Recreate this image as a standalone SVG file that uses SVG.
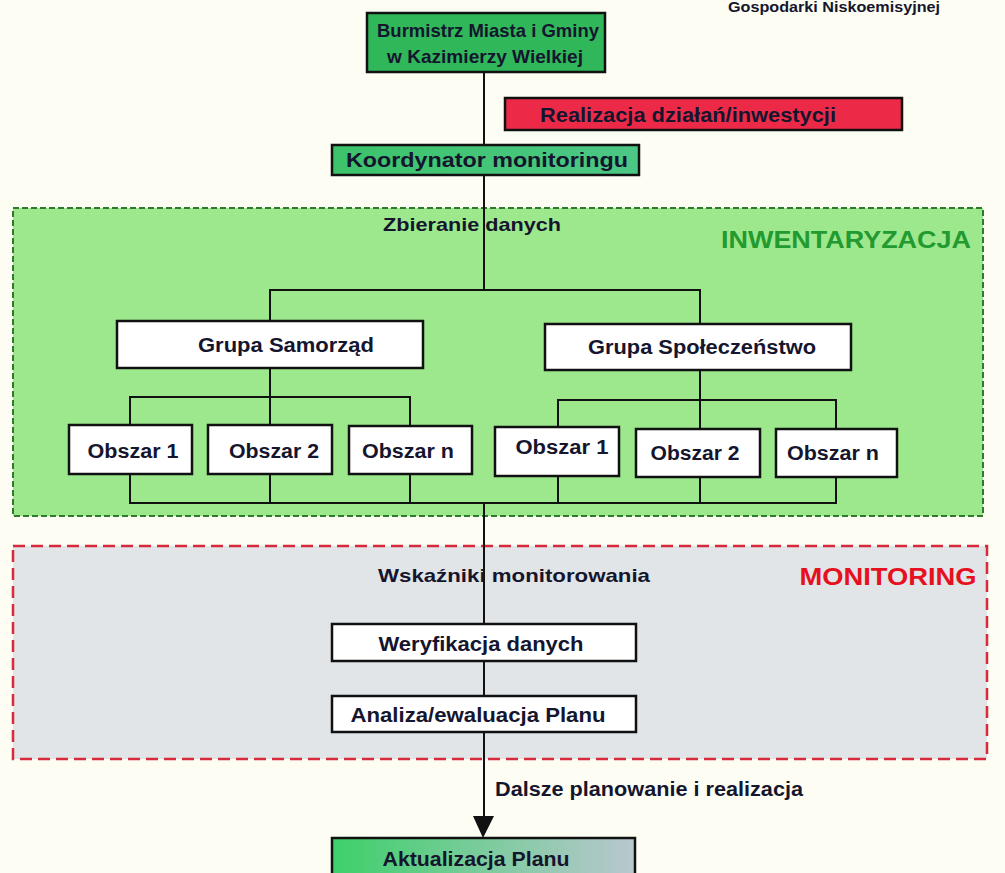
<svg xmlns="http://www.w3.org/2000/svg" width="1005" height="873" viewBox="0 0 1005 873">
<defs>
<linearGradient id="gAkt" x1="0" y1="0" x2="1" y2="0">
<stop offset="0" stop-color="#3ed06a"/><stop offset="1" stop-color="#b9c7cf"/>
</linearGradient>
<linearGradient id="gKoord" x1="0" y1="0" x2="1" y2="0">
<stop offset="0" stop-color="#3cc36a"/><stop offset="1" stop-color="#4cc786"/>
</linearGradient>
<style>
.box{stroke:#111;stroke-width:2.5}
.wbox{fill:#ffffff;stroke:#111;stroke-width:2.5}
.ln{stroke:#111;stroke-width:2;fill:none}
.t{font-family:"Liberation Sans",Arial,sans-serif;font-weight:bold;fill:#15152e;text-anchor:middle}
</style>
</defs>
<rect x="0" y="0" width="1005" height="873" fill="#fdfdf4"/>
<text class="t" x="834" y="12" font-size="15" textLength="212" lengthAdjust="spacingAndGlyphs">Gospodarki Niskoemisyjnej</text>

<g id="region-inwentaryzacja">
<rect x="13" y="208" width="970" height="308" fill="#9de88c" stroke="#2f7a2f" stroke-width="2" stroke-dasharray="6,3"/>
<text x="846" y="248" font-family="'Liberation Sans',Arial,sans-serif" font-weight="bold" font-size="23" fill="#229a30" text-anchor="middle" textLength="250" lengthAdjust="spacingAndGlyphs">INWENTARYZACJA</text>
</g>
<g id="region-monitoring">
<rect x="13" y="546" width="974" height="213" fill="#e1e5e7" stroke="#d8283c" stroke-width="2.5" stroke-dasharray="12,6"/>
<text x="888" y="585" font-family="'Liberation Sans',Arial,sans-serif" font-weight="bold" font-size="23" fill="#e6101e" text-anchor="middle" textLength="177" lengthAdjust="spacingAndGlyphs">MONITORING</text>
</g>

<g id="connectors">
<line class="ln" x1="484" y1="72" x2="484" y2="146"/>
<line class="ln" x1="484" y1="175" x2="484" y2="290"/>
<line class="ln" x1="269" y1="290" x2="701" y2="290"/>
<line class="ln" x1="270" y1="290" x2="270" y2="321"/>
<line class="ln" x1="700" y1="290" x2="700" y2="324"/>
<line class="ln" x1="270" y1="368" x2="270" y2="397"/>
<line class="ln" x1="129" y1="397" x2="411" y2="397"/>
<line class="ln" x1="130" y1="397" x2="130" y2="425"/>
<line class="ln" x1="270" y1="397" x2="270" y2="425"/>
<line class="ln" x1="410" y1="397" x2="410" y2="426"/>
<line class="ln" x1="700" y1="370" x2="700" y2="400"/>
<line class="ln" x1="557" y1="400" x2="837" y2="400"/>
<line class="ln" x1="558" y1="400" x2="558" y2="427"/>
<line class="ln" x1="700" y1="400" x2="700" y2="429"/>
<line class="ln" x1="836" y1="400" x2="836" y2="429"/>
<line class="ln" x1="130" y1="474" x2="130" y2="503"/>
<line class="ln" x1="270" y1="474" x2="270" y2="503"/>
<line class="ln" x1="410" y1="474" x2="410" y2="503"/>
<line class="ln" x1="558" y1="476" x2="558" y2="503"/>
<line class="ln" x1="700" y1="477" x2="700" y2="503"/>
<line class="ln" x1="836" y1="477" x2="836" y2="503"/>
<line class="ln" x1="129" y1="503" x2="837" y2="503"/>
<line class="ln" x1="484" y1="503" x2="484" y2="624"/>
<line class="ln" x1="484" y1="661" x2="484" y2="696"/>
<line class="ln" x1="484" y1="732" x2="484" y2="820"/>
<polygon points="473,816 494,816 483,838" fill="#111"/>
</g>

<g id="node-burmistrz">
<rect class="box" x="367" y="13" width="238" height="59" fill="#2fb75a"/>
<text class="t" x="488" y="37" font-size="19" textLength="222" lengthAdjust="spacingAndGlyphs">Burmistrz Miasta i Gminy</text>
<text class="t" x="485" y="63" font-size="19" textLength="196" lengthAdjust="spacingAndGlyphs">w Kazimierzy Wielkiej</text>
</g>
<g id="node-realizacja">
<rect class="box" x="505" y="98" width="397" height="32" fill="#ec2a48"/>
<text class="t" x="688" y="122" font-size="20" textLength="296" lengthAdjust="spacingAndGlyphs">Realizacja działań/inwestycji</text>
</g>
<g id="node-koordynator">
<rect class="box" x="332" y="145" width="307" height="30" fill="url(#gKoord)"/>
<text class="t" x="487" y="167" font-size="20" textLength="282" lengthAdjust="spacingAndGlyphs">Koordynator monitoringu</text>
</g>
<g id="label-zbieranie">
<text class="t" x="472" y="231" font-size="19" textLength="178" lengthAdjust="spacingAndGlyphs">Zbieranie danych</text>
</g>
<g id="node-grupa-samorzad">
<rect class="wbox" x="117" y="321" width="306" height="47"/>
<text class="t" x="286" y="352" font-size="20" textLength="176" lengthAdjust="spacingAndGlyphs">Grupa Samorząd</text>
</g>
<g id="node-grupa-spoleczenstwo">
<rect class="wbox" x="545" y="324" width="306" height="46"/>
<text class="t" x="702" y="354" font-size="20" textLength="228" lengthAdjust="spacingAndGlyphs">Grupa Społeczeństwo</text>
</g>
<g id="node-s-obszar1">
<rect class="wbox" x="69" y="425" width="123" height="49"/>
<text class="t" x="133" y="458" font-size="20" textLength="91" lengthAdjust="spacingAndGlyphs">Obszar 1</text>
</g>
<g id="node-s-obszar2">
<rect class="wbox" x="208" y="425" width="124" height="49"/>
<text class="t" x="274" y="458" font-size="20" textLength="90" lengthAdjust="spacingAndGlyphs">Obszar 2</text>
</g>
<g id="node-s-obszarn">
<rect class="wbox" x="349" y="426" width="123" height="48"/>
<text class="t" x="408" y="458" font-size="20" textLength="92" lengthAdjust="spacingAndGlyphs">Obszar n</text>
</g>
<g id="node-p-obszar1">
<rect class="wbox" x="495" y="427" width="124" height="49"/>
<text class="t" x="562" y="454" font-size="20" textLength="93" lengthAdjust="spacingAndGlyphs">Obszar 1</text>
</g>
<g id="node-p-obszar2">
<rect class="wbox" x="636" y="429" width="124" height="48"/>
<text class="t" x="695" y="460" font-size="20" textLength="89" lengthAdjust="spacingAndGlyphs">Obszar 2</text>
</g>
<g id="node-p-obszarn">
<rect class="wbox" x="776" y="429" width="121" height="48"/>
<text class="t" x="833" y="460" font-size="20" textLength="92" lengthAdjust="spacingAndGlyphs">Obszar n</text>
</g>
<g id="label-wskazniki">
<text class="t" x="514" y="582" font-size="19" textLength="272" lengthAdjust="spacingAndGlyphs">Wskaźniki monitorowania</text>
</g>
<g id="node-weryfikacja">
<rect class="wbox" x="332" y="624" width="304" height="37"/>
<text class="t" x="481" y="651" font-size="20" textLength="205" lengthAdjust="spacingAndGlyphs">Weryfikacja danych</text>
</g>
<g id="node-analiza">
<rect class="wbox" x="332" y="696" width="304" height="36"/>
<text class="t" x="478" y="722" font-size="20" textLength="255" lengthAdjust="spacingAndGlyphs">Analiza/ewaluacja Planu</text>
</g>
<g id="label-dalsze">
<text class="t" x="649" y="796" font-size="20" textLength="308" lengthAdjust="spacingAndGlyphs">Dalsze planowanie i realizacja</text>
</g>
<g id="node-aktualizacja">
<rect class="box" x="332" y="838" width="303" height="45" fill="url(#gAkt)"/>
<text class="t" x="476" y="866" font-size="20" textLength="187" lengthAdjust="spacingAndGlyphs">Aktualizacja Planu</text>
</g>
</svg>
